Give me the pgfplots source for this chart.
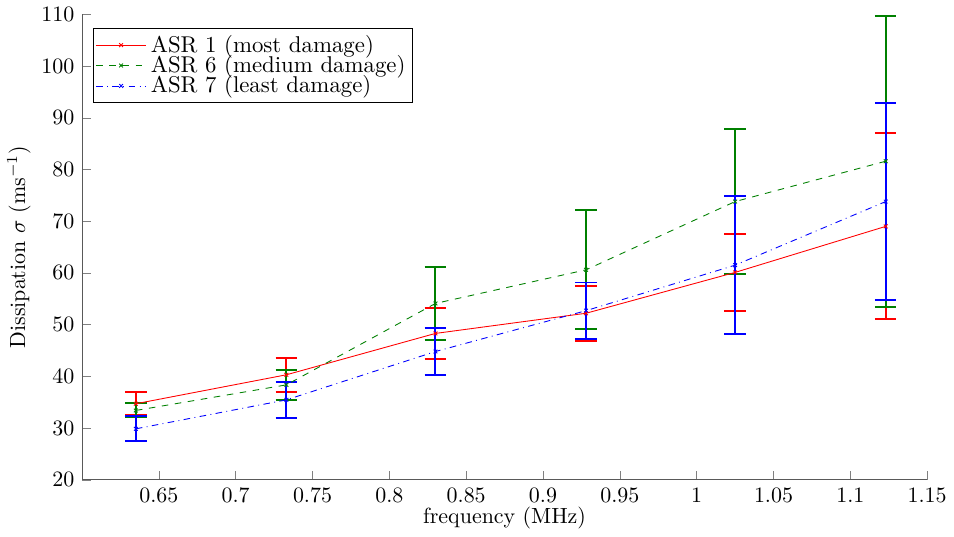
\documentclass[border=0pt]{standalone}
\usepackage{pgfplots}
\pgfplotsset{compat=1.18}
\definecolor{mygreen}{rgb}{0,0.5,0}
\begin{document}
\begin{tikzpicture}
\begin{axis}[
  scale only axis,
  width=385pt, height=212pt,
  xmin=0.6, xmax=1.15, ymin=20, ymax=110,
  xtick={0.65,0.7,0.75,0.8,0.85,0.9,0.95,1,1.05,1.1,1.15},
  xticklabels={0.65,0.7,0.75,0.8,0.85,0.9,0.95,1,1.05,1.1,1.15},
  ytick={20,30,40,50,60,70,80,90,100,110},
  axis x line*=bottom, axis y line*=left,
  axis line style={black!65},
  tick align=inside,
  major tick length=4pt,
  xlabel={frequency (MHz)},
  ylabel={Dissipation $\sigma$ (ms$^{-1}$)},
  xlabel style={yshift=5pt},
  ylabel style={yshift=-2pt},
  legend style={at={(0.013,0.971)}, anchor=north west, draw=black,
    inner sep=1pt, row sep=-4pt, font=\fontsize{10.4}{12}\selectfont},
  legend cell align=left,
  legend image code/.code={\draw[mark repeat=2,mark phase=2] plot coordinates {(0cm,0cm)(0.4cm,0cm)(0.8cm,0cm)};},
  unbounded coords=jump,
  ebar/.style={solid, forget plot, mark=none, line width=0.9pt},
]
\addplot[red, ebar] coordinates {
(0.635,32.5)(0.635,36.9) (nan,nan) (0.628,32.5)(0.642,32.5) (nan,nan) (0.628,36.9)(0.642,36.9) (nan,nan)
(0.733,37.0)(0.733,43.6) (nan,nan) (0.726,37.0)(0.740,37.0) (nan,nan) (0.726,43.6)(0.740,43.6) (nan,nan)
(0.830,43.35)(0.830,53.25) (nan,nan) (0.823,43.35)(0.837,43.35) (nan,nan) (0.823,53.25)(0.837,53.25) (nan,nan)
(0.928,46.9)(0.928,57.5) (nan,nan) (0.921,46.9)(0.935,46.9) (nan,nan) (0.921,57.5)(0.935,57.5) (nan,nan)
(1.025,52.7)(1.025,67.5) (nan,nan) (1.018,52.7)(1.032,52.7) (nan,nan) (1.018,67.5)(1.032,67.5) (nan,nan)
(1.123,51.0)(1.123,87.0) (nan,nan) (1.116,51.0)(1.130,51.0) (nan,nan) (1.116,87.0)(1.130,87.0)
};
\addplot[mygreen, ebar] coordinates {
(0.635,32.05)(0.635,34.75) (nan,nan) (0.628,32.05)(0.642,32.05) (nan,nan) (0.628,34.75)(0.642,34.75) (nan,nan)
(0.733,35.39)(0.733,41.31) (nan,nan) (0.726,35.39)(0.740,35.39) (nan,nan) (0.726,41.31)(0.740,41.31) (nan,nan)
(0.830,47.03)(0.830,61.17) (nan,nan) (0.823,47.03)(0.837,47.03) (nan,nan) (0.823,61.17)(0.837,61.17) (nan,nan)
(0.928,49.1)(0.928,72.1) (nan,nan) (0.921,49.1)(0.935,49.1) (nan,nan) (0.921,72.1)(0.935,72.1) (nan,nan)
(1.025,59.8)(1.025,87.8) (nan,nan) (1.018,59.8)(1.032,59.8) (nan,nan) (1.018,87.8)(1.032,87.8) (nan,nan)
(1.123,53.5)(1.123,109.7) (nan,nan) (1.116,53.5)(1.130,53.5) (nan,nan) (1.116,109.7)(1.130,109.7)
};
\addplot[blue, ebar] coordinates {
(0.635,27.45)(0.635,32.25) (nan,nan) (0.628,27.45)(0.642,27.45) (nan,nan) (0.628,32.25)(0.642,32.25) (nan,nan)
(0.733,31.92)(0.733,38.98) (nan,nan) (0.726,31.92)(0.740,31.92) (nan,nan) (0.726,38.98)(0.740,38.98) (nan,nan)
(0.830,40.28)(0.830,49.32) (nan,nan) (0.823,40.28)(0.837,40.28) (nan,nan) (0.823,49.32)(0.837,49.32) (nan,nan)
(0.928,47.25)(0.928,58.15) (nan,nan) (0.921,47.25)(0.935,47.25) (nan,nan) (0.921,58.15)(0.935,58.15) (nan,nan)
(1.025,48.2)(1.025,74.8) (nan,nan) (1.018,48.2)(1.032,48.2) (nan,nan) (1.018,74.8)(1.032,74.8) (nan,nan)
(1.123,54.8)(1.123,92.8) (nan,nan) (1.116,54.8)(1.130,54.8) (nan,nan) (1.116,92.8)(1.130,92.8)
};
\addplot[red, solid, mark=x, mark size=1.2pt]
  coordinates {(0.635,34.7) (0.733,40.3) (0.830,48.3) (0.928,52.2) (1.025,60.1) (1.123,69.0)};
\addlegendentry{ASR 1 (most damage)}
\addplot[mygreen, dashed, mark=x, mark size=1.2pt, mark options={solid}]
  coordinates {(0.635,33.4) (0.733,38.35) (0.830,54.1) (0.928,60.6) (1.025,73.8) (1.123,81.6)};
\addlegendentry{ASR 6 (medium damage)}
\addplot[blue, dash dot, mark=x, mark size=1.2pt, mark options={solid}]
  coordinates {(0.635,29.85) (0.733,35.45) (0.830,44.8) (0.928,52.7) (1.025,61.5) (1.123,73.8)};
\addlegendentry{ASR 7 (least damage)}
\end{axis}
\end{tikzpicture}
\end{document}
